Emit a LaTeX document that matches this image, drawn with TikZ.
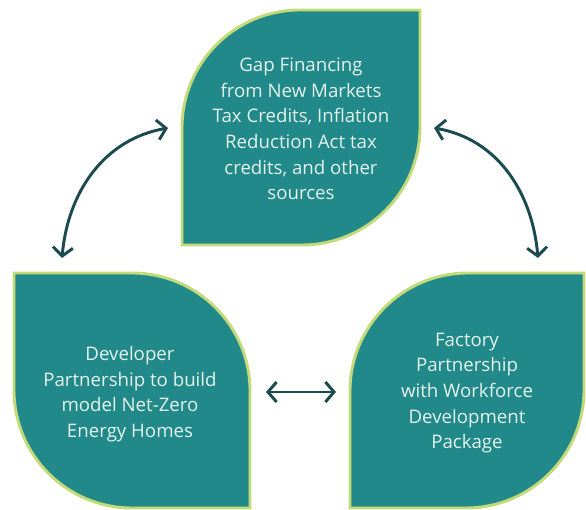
\documentclass[tikz,border=0pt]{standalone}
\usepackage{fontspec}
\setmainfont{Open Sans}
\usetikzlibrary{arrows.meta}

\definecolor{leafteal}{HTML}{21898A}
\definecolor{leafrim}{HTML}{C3DA78}
\definecolor{arrowdark}{HTML}{1B4A50}
\definecolor{leafink}{HTML}{E4F3EC}

\begin{document}
\begin{tikzpicture}[x=0.75pt,y=0.75pt,
  leaf/.style={fill=leafteal,draw=leafrim,line width=2.2pt},
  leaftext/.style={text=leafink,align=center,font=\fontsize{14}{19.2}\selectfont},
  cyclearrow/.style={draw=arrowdark,line width=2.2pt,
    {Straight Barb[length=6.5pt,width=15pt]}-{Straight Barb[length=6.5pt,width=15pt]}}]

\useasboundingbox (0,0) rectangle (586,510);

% top leaf
\draw[leaf] (182,265) -- (182,382) arc(180:90:118) -- (420,500)
  -- (420,383) arc(0:-90:118) -- cycle;
\node[leaftext] (gap) at (301,381) {Gap Financing\\from New Markets\\Tax Credits, Inflation\\Reduction Act tax\\credits, and other\\sources};

% bottom left leaf
\draw[leaf] (14,237) -- (132,237) arc(90:0:118) -- (250,2)
  -- (132,2) arc(270:180:118) -- cycle;
\node[leaftext] (dev) at (130,116) {Developer\\Partnership to build\\model Net-Zero\\Energy Homes};

% bottom right leaf
\draw[leaf] (350,2) -- (350,119) arc(180:90:118) -- (584,237)
  -- (584,120) arc(0:-90:118) -- cycle;
\node[leaftext] (fac) at (467,117) {Factory\\Partnership\\with Workforce\\Development\\Package};

% arrow ends
\coordinate (a1) at (62,252);
\coordinate (a2) at (168,382);
\coordinate (b1) at (434,382);
\coordinate (b2) at (538,252);
\coordinate (c1) at (266,118);
\coordinate (c2) at (336,118);

\draw[cyclearrow] (a1) to[out=85,in=190] (a2);
\draw[cyclearrow] (b1) to[out=-10,in=95] (b2);
\draw[cyclearrow] (c1) -- (c2);

\end{tikzpicture}
\end{document}
